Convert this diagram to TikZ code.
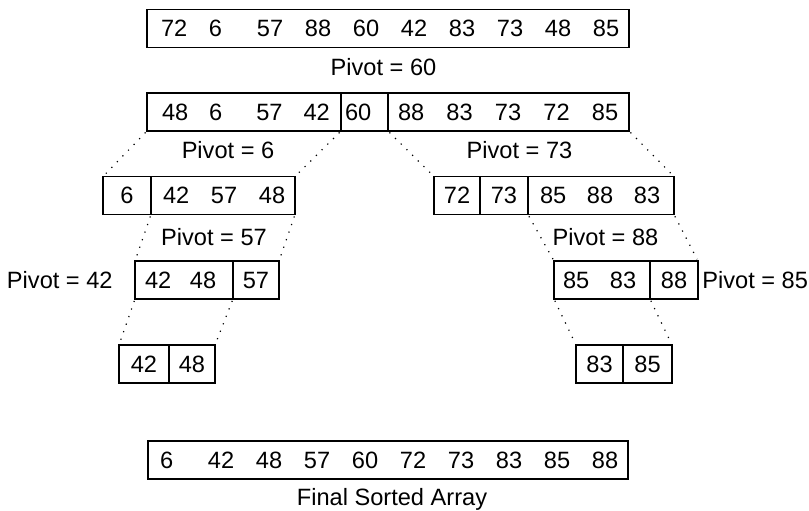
\documentclass[tikz,border=0pt]{standalone}
\usepackage{fontspec}
\setmainfont{Liberation Sans}
\usetikzlibrary{positioning}
\tikzstyle{seg} = [draw, line width=0.6pt, minimum height=19pt, inner sep=0pt, outer sep=0pt, anchor=west]
\tikzstyle{pivot} = [inner sep=0pt]
\tikzstyle{link} = [line width=0.6pt, dash pattern=on 0.6pt off 3.4pt, shorten <=1pt, shorten >=1pt]
\newcommand{\numslot}[2][24pt]{\makebox[#1][l]{#2}}
\newcommand{\segrow}[3]{\makebox[#1][l]{\hspace*{#2}#3}}

\begin{document}
\begin{tikzpicture}[x=0.5pt, y=-0.5pt, font=\fontsize{11.8}{14}\selectfont]
\useasboundingbox (0,0) rectangle (809,510);

\node[seg] (lvl0) at (147,28.5) {\segrow{241pt}{7pt}{\numslot{72}\numslot{6}\numslot{57}\numslot{88}\numslot{60}\numslot{42}\numslot{83}\numslot{73}\numslot{48}85}};
\node[pivot] (piv60) at (383.5,67) {Pivot = 60};

\node[seg] (lvl1a) at (147,112) {\segrow{97pt}{7.5pt}{\numslot[23.6pt]{48}\numslot[23.6pt]{6}\numslot[23.6pt]{57}42}};
\node[seg, right=0pt of lvl1a] (lvl1b) {\segrow{23.5pt}{2pt}{60}};
\node[seg, right=0pt of lvl1b] (lvl1c) {\segrow{120.5pt}{5pt}{\numslot[24.25pt]{88}\numslot[24.25pt]{83}\numslot[24.25pt]{73}\numslot[24.25pt]{72}85}};
\node[pivot] (piv6) at (228,150) {Pivot = 6};
\node[pivot] (piv73) at (519.5,150) {Pivot = 73};

\node[seg] (la1) at (103,195.5) {\makebox[24pt]{6}};
\node[seg, right=0pt of la1] (la2) {\segrow{72pt}{6pt}{\numslot{42}\numslot{57}48}};
\node[seg] (ra1) at (434,195.5) {\makebox[23pt]{72}};
\node[seg, right=0pt of ra1] (ra2) {\makebox[24pt]{73}};
\node[seg, right=0pt of ra2] (ra3) {\segrow{73pt}{6pt}{\numslot[23.5pt]{85}\numslot[23.5pt]{88}83}};
\node[pivot] (piv57) at (214,237) {Pivot = 57};
\node[pivot] (piv88) at (605.5,237) {Pivot = 88};

\node[seg] (lb1) at (135,280) {\segrow{49pt}{5pt}{\numslot[22.5pt]{42}48}};
\node[seg, right=0pt of lb1] (lb2) {\makebox[23pt]{57}};
\node[pivot, left=11pt of lb1] (piv42) {Pivot = 42};
\node[seg] (rb1) at (554,280) {\segrow{48pt}{4.5pt}{\numslot[23.5pt]{85}83}};
\node[seg, right=0pt of rb1] (rb2) {\makebox[24pt]{88}};
\node[pivot, right=2pt of rb2] (piv85) {Pivot = 85};

\node[seg] (lc1) at (119,364) {\makebox[25pt]{42}};
\node[seg, right=0pt of lc1] (lc2) {\makebox[23pt]{48}};
\node[seg] (rc1) at (576,364) {\makebox[23.5pt]{83}};
\node[seg, right=0pt of rc1] (rc2) {\makebox[24.5pt]{85}};

\node[seg] (sorted) at (148,460) {\segrow{240pt}{6pt}{\numslot{6}\numslot{42}\numslot{48}\numslot{57}\numslot{60}\numslot{72}\numslot{73}\numslot{83}\numslot{85}88}};
\node[pivot, below=4.5pt of sorted, xshift=2pt] (final) {Final Sorted Array};

\draw[link] (lvl1a.south west) -- (la1.north west);
\draw[link] (lvl1a.south east) -- (la2.north east);
\draw[link] (lvl1c.south west) -- (ra1.north west);
\draw[link] (lvl1c.south east) -- (ra3.north east);
\draw[link] (la2.south west) -- (lb1.north west);
\draw[link] (la2.south east) -- (lb2.north east);
\draw[link] (ra3.south west) -- (rb1.north west);
\draw[link] (ra3.south east) -- (rb2.north east);
\draw[link] (lb1.south west) -- (lc1.north west);
\draw[link] (lb1.south east) -- (lc2.north east);
\draw[link] (rb1.south west) -- (rc1.north west);
\draw[link] (rb1.south east) -- (rc2.north east);
\end{tikzpicture}
\end{document}
